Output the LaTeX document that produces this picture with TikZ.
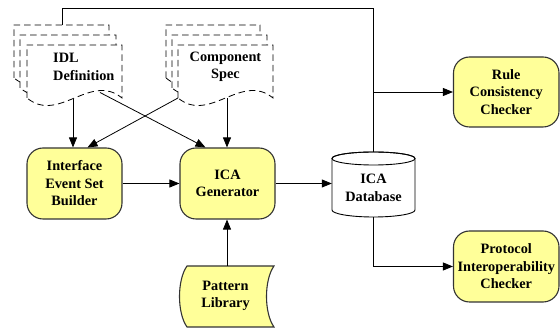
\documentclass[tikz,border=0pt]{standalone}
\usepackage{fontspec}
\setmainfont{Liberation Serif}
\usetikzlibrary{arrows.meta}
\definecolor{boxfill}{HTML}{FFFF99}
\definecolor{boxline}{HTML}{333333}
\newcommand\mydoc[4]{\path[docshape] (#1,#4) -- (#1,#2) -- (#3,#2) -- (#3,#4) .. controls ({#3-(#3-#1)/3},{#4-26}) and ({#1+(#3-#1)/3},{#4+26}) .. (#1,#4) -- cycle;}
\begin{document}
\begin{tikzpicture}[x=1pt,y=-1pt,
  txt/.style={align=center, font=\bfseries\fontsize{14.3}{17.5}\selectfont, inner sep=0pt},
  proc/.style={txt, draw=boxline, line width=1.1pt, fill=boxfill, rounded corners=16pt, minimum height=71pt},
  docshape/.style={draw=black, dash pattern=on 6.5pt off 4pt, fill=white, line width=0.8pt},
  conn/.style={draw=black, line width=0.8pt},
  arr/.style={conn, -{Triangle[length=10pt,width=8pt]}}]
\path[use as bounding box] (0,0) rectangle (560,328);

% documents
\mydoc{14}{25}{109}{78}
\mydoc{20}{35}{116}{88}
\mydoc{27}{45}{122}{98}
\mydoc{166}{25}{260}{78}
\mydoc{172}{35}{267}{88}
\mydoc{178}{45}{273}{98}
\node[txt, align=left, anchor=west] (idl) at (53,67) {IDL\\Definition};
\node[txt] (comp) at (225.5,67) {Component\\Spec};
\coordinate (idltop) at (62,25);
\coordinate (idlbot) at (73,99.5);
\coordinate (idlx) at (100,92.5);
\coordinate (compbot) at (227,98.5);
\coordinate (compx) at (178,98);

% process boxes
\node[proc, minimum width=95pt] (builder) at (74.5,183.5) {Interface\\Event Set\\Builder};
\node[proc, minimum width=95pt] (gen) at (227.5,183.5) {ICA\\Generator};
\node[proc, minimum width=105.5pt, minimum height=70pt] (rule) at (506.25,92) {Rule\\Consistency\\Checker};
\node[proc, minimum width=105.5pt] (proto) at (506.25,266.5) {Protocol\\Interoperability\\Checker};

% database
\node[minimum width=83pt, minimum height=65pt, inner sep=0pt] (db) at (373.5,184.5) {};
\path[draw=black, fill=white, line width=0.9pt] (332,158.5) -- (332,210)
  arc[start angle=180, end angle=360, x radius=41.5pt, y radius=7pt] -- (415,158.5)
  arc[start angle=0, end angle=180, x radius=41.5pt, y radius=6.5pt] -- cycle;
\draw[black, line width=0.9pt] (373.5,158.5) ellipse [x radius=41.5pt, y radius=6.5pt];
\node[txt] (dbt) at (373.5,188) {ICA\\Database};

% pattern library
\node[minimum width=95pt, minimum height=61pt, inner sep=0pt] (lib) at (227,296.5) {};
\path[draw=boxline, line width=1.1pt, fill=boxfill] (187,266) -- (274,266)
  .. controls (264,280) and (264,313) .. (274,327) -- (187,327)
  .. controls (177,313) and (177,280) .. (187,266) -- cycle;
\node[txt] (libt) at (225.5,296) {Pattern\\Library};

% connectors
\draw[arr] (idlbot) -- (idlbot |- builder.north);
\draw[arr] (compbot) -- (compbot |- gen.north);
\draw[arr] (idlx) -- ([xshift=-22pt]gen.north);
\draw[arr] (compx) -- ([xshift=13pt]builder.north);
\draw[arr] (builder) -- (gen);
\draw[arr] (gen.east) -- (gen.east -| db.west);
\draw[arr] (lib.north) -- (lib.north |- gen.south);
\draw[conn] (idltop) -- (62,8) -| (db.north);
\coordinate (j1) at (db.north |- rule.west);
\draw[arr] (j1) -- (rule.west);
\draw[arr] (db.south) |- (proto.west);
\end{tikzpicture}
\end{document}
